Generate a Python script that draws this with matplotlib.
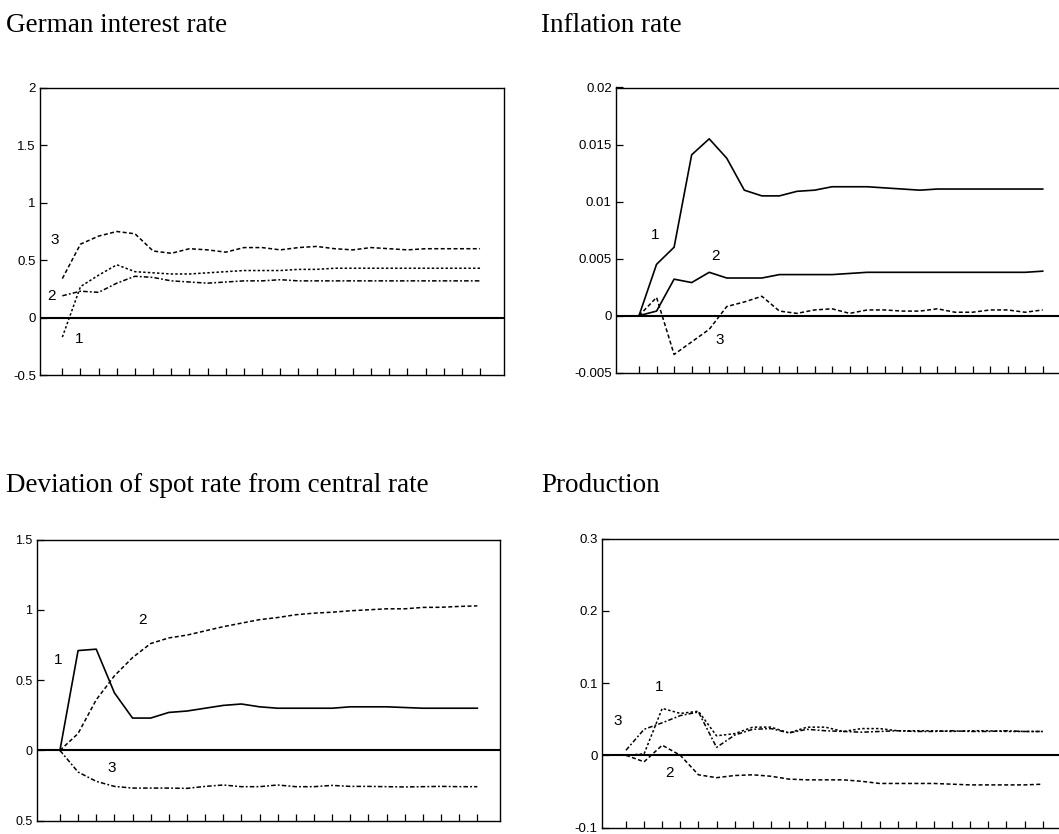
"""Impulse responses in four panels (scan-style reproduction)."""
import numpy as np
import matplotlib
matplotlib.use("Agg")
import matplotlib.pyplot as plt

W, H = 1059, 834

# --- data: responses over 24 periods ---------------------------------------
periods = np.arange(24)

# German interest rate
gir_1 = [-0.17, 0.27, 0.37, 0.46, 0.40, 0.39, 0.38, 0.38, 0.39, 0.40, 0.41, 0.41,
         0.41, 0.42, 0.42, 0.43, 0.43, 0.43, 0.43, 0.43, 0.43, 0.43, 0.43, 0.43]
gir_2 = [0.19, 0.23, 0.22, 0.30, 0.36, 0.35, 0.32, 0.31, 0.30, 0.31, 0.32, 0.32,
         0.33, 0.32, 0.32, 0.32, 0.32, 0.32, 0.32, 0.32, 0.32, 0.32, 0.32, 0.32]
gir_3 = [0.34, 0.64, 0.71, 0.75, 0.73, 0.58, 0.56, 0.60, 0.59, 0.57, 0.61, 0.61,
         0.59, 0.61, 0.62, 0.60, 0.59, 0.61, 0.60, 0.59, 0.60, 0.60, 0.60, 0.60]

# Inflation rate
inf_1 = [0.0, 0.0045, 0.0060, 0.0141, 0.0155, 0.0138, 0.0110, 0.0105, 0.0105, 0.0109,
         0.0110, 0.0113, 0.0113, 0.0113, 0.0112, 0.0111, 0.0110, 0.0111, 0.0111, 0.0111,
         0.0111, 0.0111, 0.0111, 0.0111]
inf_2 = [0.0, 0.0004, 0.0032, 0.0029, 0.0038, 0.0033, 0.0033, 0.0033, 0.0036, 0.0036,
         0.0036, 0.0036, 0.0037, 0.0038, 0.0038, 0.0038, 0.0038, 0.0038, 0.0038, 0.0038,
         0.0038, 0.0038, 0.0038, 0.0039]
inf_3 = [0.0, 0.0016, -0.0034, -0.0023, -0.0012, 0.0008, 0.0012, 0.0017, 0.0004, 0.0002,
         0.0005, 0.0006, 0.0002, 0.0005, 0.0005, 0.0004, 0.0004, 0.0006, 0.0003, 0.0003,
         0.0005, 0.0005, 0.0003, 0.0005]

# Deviation of spot rate from central rate
dev_1 = [0.0, 0.71, 0.72, 0.41, 0.23, 0.23, 0.27, 0.28, 0.30, 0.32, 0.33, 0.31,
         0.30, 0.30, 0.30, 0.30, 0.31, 0.31, 0.31, 0.305, 0.30, 0.30, 0.30, 0.30]
dev_2 = [0.0, 0.12, 0.36, 0.53, 0.66, 0.76, 0.80, 0.82, 0.85, 0.88, 0.905, 0.93,
         0.945, 0.965, 0.976, 0.983, 0.993, 1.0, 1.007, 1.007, 1.017, 1.018, 1.024, 1.028]
dev_3 = [0.0, -0.154, -0.22, -0.256, -0.268, -0.268, -0.268, -0.27, -0.256, -0.246,
         -0.258, -0.258, -0.246, -0.258, -0.258, -0.249, -0.256, -0.256, -0.258, -0.26,
         -0.258, -0.256, -0.258, -0.258]

# Production
prod_1 = [0.0, 0.002, 0.065, 0.058, 0.061, 0.027, 0.030, 0.039, 0.039, 0.031, 0.039, 0.039,
          0.033, 0.037, 0.037, 0.034, 0.034, 0.034, 0.033, 0.034, 0.034, 0.033, 0.033, 0.033]
prod_2 = [0.0, -0.009, 0.014, 0.0, -0.027, -0.031, -0.028, -0.027, -0.029, -0.033, -0.034,
          -0.034, -0.034, -0.036, -0.039, -0.039, -0.039, -0.039, -0.040, -0.041, -0.041,
          -0.041, -0.041, -0.040]
prod_3 = [0.007, 0.036, 0.045, 0.055, 0.060, 0.011, 0.028, 0.036, 0.037, 0.031, 0.036, 0.034,
          0.033, 0.032, 0.033, 0.034, 0.033, 0.033, 0.034, 0.033, 0.033, 0.034, 0.033, 0.033]

gir_ticks = [-0.5, 0, 0.5, 1, 1.5, 2]
gir_labels = ["-0.5", "0", "0.5", "1", "1.5", "2"]
inf_ticks = [-0.005, 0, 0.005, 0.01, 0.015, 0.02]
inf_labels = ["-0.005", "0", "0.005", "0.01", "0.015", "0.02"]
dev_ticks = [-0.5, 0, 0.5, 1, 1.5]
dev_labels = ["0.5", "0", "0.5", "1", "1.5"]
prod_ticks = [-0.1, 0, 0.1, 0.2, 0.3]
prod_labels = ["-0.1", "0", "0.1", "0.2", "0.3"]

SOLID = "-"
DASH = (0, (2.6, 1.6))
DOT = (0, (1.6, 1.4))
DASHDOT = (0, (3, 1.4, 1.2, 1.4))

plt.rcParams["font.family"] = ["Liberation Sans", "DejaVu Sans"]


def make_axes(fig, left, right, top, bottom):
    """Axes placed by pixel edges."""
    return fig.add_axes([left / W, 1 - bottom / H, (right - left) / W, (bottom - top) / H])


def style_panel(ax, xlim, ylim, yticks, ylabels, fs=9.5):
    ax.set_xlim(*xlim)
    ax.set_ylim(*ylim)
    ax.set_xticks(periods)
    ax.set_xticklabels([])
    ax.set_yticks(yticks)
    ax.set_yticklabels(ylabels, fontsize=fs)
    ax.tick_params(axis="both", direction="in", length=5, width=0.9, pad=3)
    ax.tick_params(axis="x", top=False)
    for s in ax.spines.values():
        s.set_linewidth(1.0)
    ax.axhline(0, color="black", lw=1.5)


def label(ax, x, y, txt):
    ax.text(x, y, txt, fontsize=11, ha="center", va="center")


fig = plt.figure(figsize=(W / 100, H / 100), dpi=100)

# German interest rate
ax1 = make_axes(fig, 40, 504, 88, 375)
style_panel(ax1, (-1.23, 24.32), (-0.5, 2), gir_ticks, gir_labels)
ax1.plot(periods, gir_1, color="black", lw=1.1, ls=DOT)
ax1.plot(periods, gir_2, color="black", lw=1.1, ls=DASHDOT)
ax1.plot(periods, gir_3, color="black", lw=1.1, ls=DASH)
label(ax1, -0.40, 0.68, "3")
label(ax1, -0.57, 0.185, "2")
label(ax1, 0.92, -0.19, "1")

# Inflation rate
ax2 = make_axes(fig, 616, 1064.5, 87.5, 372.7)
style_panel(ax2, (-1.31, 24.24), (-0.005, 0.02), inf_ticks, inf_labels)
ax2.plot(periods, inf_1, color="black", lw=1.2, ls=SOLID)
ax2.plot(periods, inf_2, color="black", lw=1.2, ls=SOLID)
ax2.plot(periods, inf_3, color="black", lw=1.1, ls=DASH)
label(ax2, 0.91, 0.00708, "1")
label(ax2, 4.37, 0.00524, "2")
label(ax2, 4.58, -0.00213, "3")

# Deviation of spot rate
ax3 = make_axes(fig, 36.7, 500, 539.5, 820.7)
style_panel(ax3, (-1.28, 24.25), (-0.5, 1.5), dev_ticks, dev_labels, fs=9)
ax3.plot(periods, dev_1, color="black", lw=1.2, ls=SOLID)
ax3.plot(periods, dev_2, color="black", lw=1.1, ls=DASH)
ax3.plot(periods, dev_3, color="black", lw=1.1, ls=DASHDOT)
label(ax3, -0.09, 0.645, "1")
label(ax3, 4.56, 0.93, "2")
label(ax3, 2.85, -0.125, "3")

# Production
ax4 = make_axes(fig, 601.7, 1065.3, 538.7, 827.5)
style_panel(ax4, (-1.34, 24.25), (-0.1, 0.3), prod_ticks, prod_labels)
ax4.plot(periods, prod_1, color="black", lw=1.1, ls=DOT)
ax4.plot(periods, prod_2, color="black", lw=1.1, ls=DASH)
ax4.plot(periods, prod_3, color="black", lw=1.1, ls=DASHDOT)
label(ax4, 1.84, 0.094, "1")
label(ax4, 2.43, -0.024, "2")
label(ax4, -0.46, 0.047, "3")

# panel titles
title_kw = dict(fontsize=19.5, family=["Liberation Serif", "DejaVu Serif"], va="baseline")
fig.text(6 / W, 1 - 32 / H, "German interest rate", **title_kw)
fig.text(541 / W, 1 - 32 / H, "Inflation rate", **title_kw)
fig.text(6 / W, 1 - 492 / H, "Deviation of spot rate from central rate", **title_kw)
fig.text(541 / W, 1 - 492 / H, "Production", **title_kw)

fig.savefig("out.png", dpi=100)
